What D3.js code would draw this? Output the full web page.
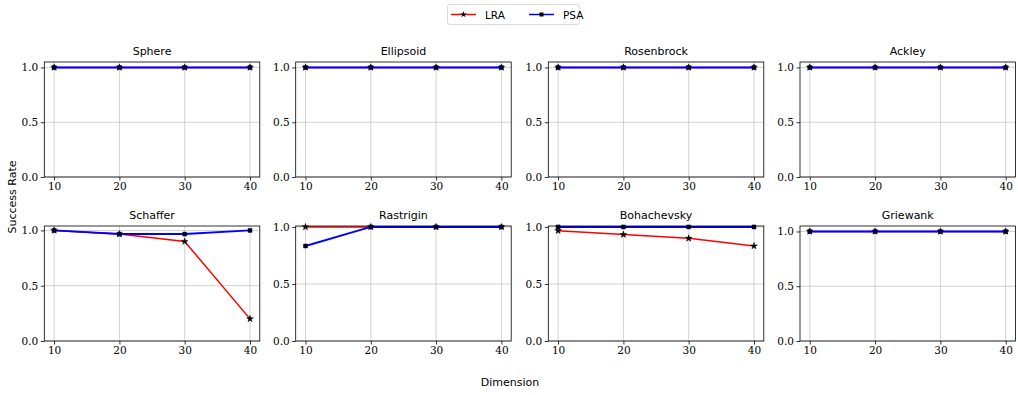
<!DOCTYPE html>
<html><head><meta charset="utf-8">
<script src="https://cdn.jsdelivr.net/npm/d3@7"></script>
<style>body{margin:0;background:#fff}</style>
</head><body>
<svg id="c" width="1018" height="395"></svg>
<script>
const dims = [10, 20, 30, 40];
const functions = ["Sphere","Ellipsoid","Rosenbrock","Ackley","Schaffer","Rastrigin","Bohachevsky","Griewank"];
const lraValues = [
  [1,1,1,1],[1,1,1,1],[1,1,1,1],[1,1,1,1],
  [1.0,0.967,0.9,0.2],[1,1,1,1],[0.967,0.933,0.9,0.833],[1,1,1,1]
];
const psaValues = [
  [1,1,1,1],[1,1,1,1],[1,1,1,1],[1,1,1,1],
  [1.0,0.967,0.967,1.0],[0.833,1,1,1],[1,1,1,1],[1,1,1,1]
];
const yTicks = [0, 0.5, 1.0];
const seriesNames = ["LRA","PSA"];

const svg = d3.select("#c");
const colLeft = [44.3, 295.7, 548.3, 800];
const rowTop = [62, 226];
const pw = 215.5, ph = 115;
const sans = "DejaVu Sans";
const serif = "'DejaVu Serif', 'Liberation Serif', serif";

functions.forEach((name, i) => {
  const r = Math.floor(i/4), c = i%4;
  const x0 = colLeft[c], y0 = rowTop[r];
  const all = lraValues[i].concat(psaValues[i]);
  const mx = d3.max(all), mn = d3.min(all);
  const top = mx > mn ? mx + 0.05*(mx-mn) : mx*1.05;
  const x = d3.scaleLinear().domain([8.5, 41.5]).range([x0, x0+pw]);
  const y = d3.scaleLinear().domain([0, top]).range([y0+ph, y0]);
  const g = svg.append("g");
  g.selectAll(".gx").data(dims).enter().append("line")
    .attr("x1", d=>x(d)).attr("x2", d=>x(d)).attr("y1", y0).attr("y2", y0+ph)
    .attr("stroke", "#b0b0b0").attr("stroke-width", 0.8).attr("opacity", 0.7);
  g.selectAll(".gy").data(yTicks).enter().append("line")
    .attr("x1", x0).attr("x2", x0+pw).attr("y1", d=>y(d)).attr("y2", d=>y(d))
    .attr("stroke", "#b0b0b0").attr("stroke-width", 0.8).attr("opacity", 0.7);
  const line = d3.line().x((d,j)=>x(dims[j])).y(d=>y(d));
  [[lraValues[i], "#ff0000", "star", 1.5], [psaValues[i], "#0000ff", "sq", 1.9]].forEach(([vals, col, m, w]) => {
    g.append("path").attr("d", line(vals)).attr("fill","none").attr("stroke", col).attr("stroke-width", w);
    const sym = m === "star" ? d3.symbol().type(d3.symbolStar).size(14) : d3.symbol().type(d3.symbolSquare).size(16);
    g.selectAll(null).data(vals).enter().append("path")
      .attr("d", sym()).attr("transform", (d,j)=>`translate(${x(dims[j])},${y(d)})`)
      .attr("fill", "#000").attr("stroke", m==="sq" ? "#000080" : "#000").attr("stroke-width", 0.5);
  });
  const ax = g.append("g").attr("transform", `translate(0,${y0+ph})`)
    .call(d3.axisBottom(x).tickValues(dims).tickSize(3.5).tickPadding(2.5).tickFormat(d3.format("d")));
  const ay = g.append("g").attr("transform", `translate(${x0},0)`)
    .call(d3.axisLeft(y).tickValues(yTicks).tickSize(3.5).tickPadding(2.5).tickFormat(d3.format(".1f")));
  [ax, ay].forEach(a => {
    a.attr("font-family", serif).attr("font-size", 10.5);
    a.select(".domain").remove();
    a.selectAll("text").style("font-family", serif).style("font-size", "10.5px").attr("fill","#000");
    a.selectAll("line").attr("stroke","#000").attr("stroke-width",0.8);
  });
  g.append("rect").attr("x", x0).attr("y", y0).attr("width", pw).attr("height", ph)
    .attr("fill","none").attr("stroke","#000").attr("stroke-width",0.8);
  g.append("text").attr("x", x0+pw/2).attr("y", y0-7).attr("text-anchor","middle")
    .attr("font-family", sans).attr("font-size", 11).text(name);
});

svg.append("text").attr("transform","translate(16,197) rotate(-90)").attr("text-anchor","middle")
  .attr("font-family", sans).attr("font-size", 11).text("Success Rate");
svg.append("text").attr("x", 510).attr("y", 386).attr("text-anchor","middle")
  .attr("font-family", sans).attr("font-size", 11).text("Dimension");

const lg = svg.append("g");
lg.append("rect").attr("x", 447.5).attr("y", 4.5).attr("width", 132).attr("height", 20).attr("rx", 2.5)
  .attr("fill","#fff").attr("stroke","#d0d0d0").attr("stroke-width", 0.8);
const legX = [451, 529];
const legCol = ["#ff0000","#0000ff"];
seriesNames.forEach((s, k) => {
  lg.append("line").attr("x1", legX[k]).attr("x2", legX[k]+25).attr("y1", 14.5).attr("y2", 14.5)
    .attr("stroke", legCol[k]).attr("stroke-width", 1.5);
  const sym = k === 0 ? d3.symbol().type(d3.symbolStar).size(14) : d3.symbol().type(d3.symbolSquare).size(16);
  lg.append("path").attr("d", sym()).attr("transform", `translate(${legX[k]+12.5},14.5)`).attr("fill","#000");
  lg.append("text").attr("x", legX[k]+34).attr("y", 18.5).attr("font-family", sans).attr("font-size", 10.5).text(s);
});
</script>
</body></html>
